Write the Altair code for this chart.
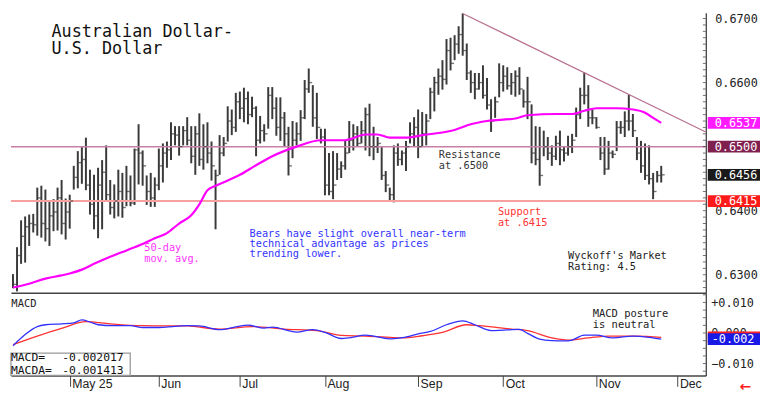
import altair as alt
import pandas as pd
import numpy as np

# ---------------- data ----------------
highs = [0.6301, 0.6343, 0.6385, 0.6391, 0.6394, 0.6395, 0.6436, 0.6439, 0.6433, 0.6415,
         0.6418, 0.6436, 0.6448, 0.6419, 0.6425, 0.6470, 0.6493, 0.6500, 0.6514, 0.6464,
         0.6456, 0.6467, 0.6479, 0.6502, 0.6448, 0.6441, 0.6464, 0.6459, 0.6470, 0.6455,
         0.6497, 0.6535, 0.6494, 0.6455, 0.6459, 0.6452, 0.6497, 0.6505, 0.6508, 0.6538,
         0.6532, 0.6532, 0.6532, 0.6546, 0.6532, 0.6532, 0.6552, 0.6535, 0.6538, 0.6508,
         0.6464, 0.6518, 0.6515, 0.6563, 0.6558, 0.6584, 0.6586, 0.6592, 0.6586, 0.6578,
         0.6563, 0.6548, 0.6535, 0.6593, 0.6593, 0.6577, 0.6577, 0.6554, 0.6531, 0.6540,
         0.6538, 0.6557, 0.6604, 0.6622, 0.6596, 0.6584, 0.6528, 0.6528, 0.6490, 0.6493,
         0.6490, 0.6477, 0.6509, 0.6540, 0.6535, 0.6532, 0.6540, 0.6561, 0.6567, 0.6531,
         0.6515, 0.6500, 0.6462, 0.6436, 0.6502, 0.6505, 0.6494, 0.6509, 0.6538, 0.6546,
         0.6558, 0.6554, 0.6551, 0.6592, 0.6609, 0.6622, 0.6635, 0.6668, 0.6670, 0.6674,
         0.6688, 0.6708, 0.6661, 0.6619, 0.6615, 0.6615, 0.6627, 0.6607, 0.6574, 0.6578,
         0.6630, 0.6627, 0.6624, 0.6615, 0.6619, 0.6624, 0.6589, 0.6609, 0.6566, 0.6532,
         0.6531, 0.6525, 0.6515, 0.6502, 0.6517, 0.6525, 0.6500, 0.6517, 0.6520, 0.6561,
         0.6592, 0.6616, 0.6596, 0.6558, 0.6546, 0.6515, 0.6515, 0.6509, 0.6494, 0.6540,
         0.6540, 0.6555, 0.6581, 0.6551, 0.6515, 0.6509, 0.6505, 0.6502, 0.6459, 0.6462,
         0.6470]
lows = [0.6279, 0.6274, 0.6317, 0.6319, 0.6345, 0.6366, 0.6361, 0.6358, 0.6352, 0.6345,
        0.6368, 0.6369, 0.6363, 0.6355, 0.6372, 0.6433, 0.6435, 0.6442, 0.6432, 0.6394,
        0.6371, 0.6357, 0.6371, 0.6416, 0.6394, 0.6388, 0.6391, 0.6389, 0.6407, 0.6407,
        0.6409, 0.6441, 0.6439, 0.6409, 0.6406, 0.6406, 0.6432, 0.6444, 0.6467, 0.6479,
        0.6502, 0.6486, 0.6502, 0.6502, 0.6474, 0.6456, 0.6470, 0.6464, 0.6474, 0.6447,
        0.6371, 0.6456, 0.6485, 0.6508, 0.6518, 0.6523, 0.6543, 0.6538, 0.6535, 0.6546,
        0.6485, 0.6505, 0.6508, 0.6528, 0.6543, 0.6517, 0.6509, 0.6500, 0.6455, 0.6482,
        0.6502, 0.6509, 0.6543, 0.6584, 0.6531, 0.6512, 0.6505, 0.6424, 0.6424, 0.6418,
        0.6448, 0.6451, 0.6464, 0.6490, 0.6494, 0.6500, 0.6505, 0.6494, 0.6485, 0.6479,
        0.6490, 0.6448, 0.6429, 0.6416, 0.6413, 0.6470, 0.6471, 0.6462, 0.6505, 0.6500,
        0.6482, 0.6500, 0.6502, 0.6543, 0.6555, 0.6581, 0.6589, 0.6597, 0.6619, 0.6635,
        0.6645, 0.6642, 0.6604, 0.6584, 0.6574, 0.6589, 0.6575, 0.6558, 0.6523, 0.6545,
        0.6577, 0.6586, 0.6589, 0.6581, 0.6578, 0.6581, 0.6561, 0.6543, 0.6474, 0.6471,
        0.6439, 0.6485, 0.6479, 0.6470, 0.6479, 0.6471, 0.6477, 0.6486, 0.6490, 0.6515,
        0.6543, 0.6566, 0.6531, 0.6535, 0.6528, 0.6479, 0.6456, 0.6464, 0.6482, 0.6493,
        0.6520, 0.6515, 0.6525, 0.6515, 0.6479, 0.6459, 0.6448, 0.6441, 0.6418, 0.6444,
        0.6444]
closes = [0.6285, 0.6330, 0.6360, 0.6375, 0.6380, 0.6378, 0.6420, 0.6380, 0.6372, 0.6392,
          0.6398, 0.6420, 0.6380, 0.6398, 0.6415, 0.6452, 0.6475, 0.6480, 0.6440, 0.6410,
          0.6392, 0.6440, 0.6460, 0.6425, 0.6405, 0.6415, 0.6430, 0.6405, 0.6430, 0.6412,
          0.6495, 0.6490, 0.6470, 0.6430, 0.6420, 0.6440, 0.6470, 0.6490, 0.6495, 0.6520,
          0.6518, 0.6500, 0.6525, 0.6510, 0.6485, 0.6520, 0.6480, 0.6500, 0.6490, 0.6470,
          0.6455, 0.6490, 0.6505, 0.6540, 0.6530, 0.6570, 0.6560, 0.6575, 0.6550, 0.6560,
          0.6510, 0.6525, 0.6520, 0.6580, 0.6560, 0.6530, 0.6545, 0.6520, 0.6470, 0.6510,
          0.6520, 0.6545, 0.6590, 0.6600, 0.6545, 0.6530, 0.6515, 0.6440, 0.6430, 0.6440,
          0.6465, 0.6470, 0.6490, 0.6510, 0.6520, 0.6505, 0.6525, 0.6550, 0.6500, 0.6500,
          0.6505, 0.6455, 0.6440, 0.6425, 0.6490, 0.6480, 0.6490, 0.6500, 0.6520, 0.6530,
          0.6500, 0.6520, 0.6540, 0.6585, 0.6600, 0.6610, 0.6605, 0.6650, 0.6630, 0.6660,
          0.6675, 0.6650, 0.6615, 0.6600, 0.6590, 0.6600, 0.6580, 0.6565, 0.6540, 0.6570,
          0.6600, 0.6610, 0.6595, 0.6600, 0.6610, 0.6590, 0.6570, 0.6570, 0.6490, 0.6480,
          0.6455, 0.6500, 0.6490, 0.6485, 0.6505, 0.6495, 0.6490, 0.6500, 0.6510, 0.6550,
          0.6580, 0.6580, 0.6545, 0.6545, 0.6530, 0.6490, 0.6465, 0.6490, 0.6488, 0.6530,
          0.6530, 0.6540, 0.6540, 0.6525, 0.6490, 0.6470, 0.6455, 0.6450, 0.6430, 0.6455,
          0.6456]

ma_idx = [0, 4, 8, 12, 14, 17, 20, 24, 28, 32, 35, 38, 41, 44, 46, 48, 50, 53, 56, 60,
          64, 70, 76, 82, 87, 90, 93, 97, 102, 106, 109, 113, 117, 124, 127, 134, 138,
          141, 144, 149, 153, 156, 158, 160]
ma_val = [0.6280, 0.6286, 0.6294, 0.6299, 0.6302, 0.6308, 0.6317, 0.6328, 0.6338, 0.6348,
          0.6357, 0.6365, 0.6380, 0.6393, 0.6410, 0.6432, 0.6439, 0.6447, 0.6456, 0.6471,
          0.6485, 0.6500, 0.6510, 0.6510, 0.6519, 0.6519, 0.6514, 0.6514, 0.6519, 0.6522,
          0.6526, 0.6535, 0.6540, 0.6544, 0.6549, 0.6551, 0.6551, 0.6556, 0.6560, 0.6560,
          0.6558, 0.6553, 0.6545, 0.6537]

macd_idx = [0, 3, 6, 8, 12, 15, 17, 19, 21, 25, 29, 32, 36, 40, 43, 46, 51, 55, 58, 62,
            64, 70, 74, 77, 81, 83, 87, 93, 98, 100, 103, 107, 111, 114, 118, 122, 125,
            127, 130, 133, 136, 138, 141, 144, 148, 153, 157, 160]
macd_val = [-0.0042, -0.0005, 0.0021, 0.0027, 0.0030, 0.0033, 0.0043, 0.0036, 0.0027, 0.0024,
            0.0024, 0.0018, 0.0018, 0.0022, 0.0024, 0.0023, 0.0011, 0.0020, 0.0026, 0.0016,
            0.0019, 0.0003, 0.0011, 0.0002, -0.0018, -0.0016, -0.0007, -0.0019, -0.0010,
            -0.0003, 0.0005, 0.0027, 0.0040, 0.0027, 0.0008, 0.0010, 0.0012, -0.0001,
            -0.0020, -0.0025, -0.0026, -0.0023, -0.0007, -0.0007, -0.0016, -0.0010,
            -0.0014, -0.0020]
sig_idx = [0, 6, 12, 18, 24, 32, 43, 51, 59, 67, 75, 81, 87, 93, 96, 101, 106, 112, 115,
           123, 127, 133, 137, 142, 147, 154, 160]
sig_val = [-0.0038, -0.0010, 0.0015, 0.0037, 0.0030, 0.0024, 0.0023, 0.0013, 0.0021, 0.0013,
           0.0008, -0.0008, -0.0010, -0.0014, -0.0016, -0.0009, 0.0002, 0.0027, 0.0024,
           0.0013, 0.0008, -0.0016, -0.0023, -0.0016, -0.0010, -0.0010, -0.0014]

month_idx = [14, 36, 56, 77, 100, 121, 144, 164]
month_lbl = ["May 25", "Jun", "Jul", "Aug", "Sep", "Oct", "Nov", "Dec"]
price_ticks = [0.63, 0.64, 0.65, 0.66, 0.67]
macd_ticks = [-0.01, 0.0, 0.01]

resistance = 0.6500
support = 0.6415
trend_idx = [111, 171]
trend_val = [0.6708, 0.6523]
last_close = 0.6456
last_ma = 0.6537
macd_last = -0.002017
macda_last = -0.001413

# ---------------- layout ----------------
W, HM, HD = 705, 284, 84
MONO = "DejaVu Sans Mono"
xscale = alt.Scale(domain=[-0.5, 171], nice=False, zero=False)
yscale = alt.Scale(domain=[0.6272, 0.6709], nice=False, zero=False)
mscale = alt.Scale(domain=[-0.0139, 0.0132], nice=False, zero=False)

AX_MAIN = alt.Axis(orient="bottom", labels=False, ticks=False, grid=False, title=None,
                   domainColor="#444", domainWidth=1.5)
AY_MAIN = alt.Axis(orient="right", values=price_ticks, format=".4f", ticks=False,
                   grid=False, title=None, domainColor="#333", domainWidth=1.2,
                   labelFont=MONO, labelFontSize=12, labelColor="#222", labelPadding=9)

x_expr = ("[" + ",".join(f"'{m}'" for m in month_lbl) + "][indexof(["
          + ",".join(str(v) for v in month_idx) + "], datum.value)]")
y_expr = ("datum.value > 0.0001 ? '+' + format(datum.value, '.3f') : "
          "format(datum.value, '.3f')")
AX_MACD = alt.Axis(orient="bottom", values=month_idx, labelExpr=x_expr,
                   tickSize=11, tickColor="#444", tickWidth=1, grid=False,
                   title=None, domainColor="#444", domainWidth=1.5,
                   labelAlign="left", labelBaseline="top", labelPadding=-9,
                   labelOffset=2, labelFont="Liberation Sans", labelFontSize=12.5,
                   labelColor="#222", labelFlush=False, labelOverlap=False,
                   labelBound=False)
AY_MACD = alt.Axis(orient="right", values=macd_ticks, labelExpr=y_expr,
                   ticks=False, grid=False, title=None, domainColor="#333",
                   domainWidth=1.2, labelFont=MONO, labelFontSize=12,
                   labelColor="#222", labelPadding=5)


def X(f="i"):
    return alt.X(f"{f}:Q", scale=xscale, axis=AX_MAIN)


def Y(f):
    return alt.Y(f"{f}:Q", scale=yscale, axis=AY_MAIN)


def XM(f="i"):
    return alt.X(f"{f}:Q", scale=xscale, axis=AX_MACD)


def M(f):
    return alt.Y(f"{f}:Q", scale=mscale, axis=AY_MACD)


bars = pd.DataFrame({"i": range(len(highs)), "h": highs, "l": lows, "c": closes})
ma = pd.DataFrame({"i": ma_idx, "v": ma_val})
trend = pd.DataFrame({"i": trend_idx, "v": trend_val})

# ---- main panel ----
bar_rules = alt.Chart(bars).mark_rule(color="#3a3a3a", strokeWidth=2).encode(
    x=X(), y=Y("l"), y2="h:Q")
res_rule = alt.Chart(pd.DataFrame({"v": [resistance]})).mark_rule(
    color="#c97fa3", strokeWidth=1.5).encode(y=Y("v"))
sup_rule = alt.Chart(pd.DataFrame({"v": [support]})).mark_rule(
    color="#f7a0a0", strokeWidth=2).encode(y=Y("v"))
trend_line = alt.Chart(trend).mark_line(color="#b8708f", strokeWidth=1.2).encode(
    x=X(), y=Y("v"))
close_ticks = alt.Chart(bars).mark_tick(
    orient="horizontal", size=3, thickness=1.4, color="#3a3a3a", xOffset=2).encode(
    x=X(), y=Y("c"))
ma_line = alt.Chart(ma).mark_line(color="#ff00ff", strokeWidth=2.2,
                                  interpolate="monotone").encode(x=X(), y=Y("v"))

minor = pd.DataFrame({"v": np.round(np.arange(0.628, 0.6706, 0.001), 4)})
minor_ticks = alt.Chart(minor).mark_tick(orient="horizontal", size=3, thickness=1,
                                         color="#333").encode(
    x=alt.value(W - 1.5), y=Y("v"))

title_df = pd.DataFrame({"i": [9.5, 9.5], "v": [0.66710, 0.66444],
                         "t": ["Australian Dollar-", "U.S. Dollar"]})
title_txt = alt.Chart(title_df).mark_text(
    align="left", baseline="alphabetic", font=MONO, fontSize=17, color="#111").encode(
    x=X(), y=Y("v"), text="t:N")

ann = pd.DataFrame({
    "i": [105.1, 105.1, 119.7, 119.7, 58.4, 58.4, 58.4, 32.4, 32.4, 137.0, 137.0],
    "v": [0.6482, 0.64655, 0.63926, 0.63760, 0.63597, 0.63437, 0.63277, 0.63368,
          0.63203, 0.63246, 0.63080],
    "t": ["Resistance", "at .6500", "Support", "at .6415",
          "Bears have slight overall near-term", "technical advantage as prices",
          "trending lower.", "50-day", "mov. avg.", "Wyckoff's Market", "Rating: 4.5"],
    "c": ["#333333", "#333333", "#ff3333", "#ff3333", "#3333ff", "#3333ff", "#3333ff",
          "#ff33ff", "#ff33ff", "#222222", "#222222"],
})
ann_txt = alt.Chart(ann).mark_text(
    align="left", baseline="alphabetic", font=MONO, fontSize=10.4).encode(
    x=X(), y=Y("v"), text="t:N", color=alt.Color("c:N", scale=None))

boxes = pd.DataFrame({
    "v": [last_ma, resistance, last_close, support],
    "lbl": [f"{last_ma:.4f}", f"{resistance:.4f}", f"{last_close:.4f}", f"{support:.4f}"],
    "fill": ["#ff1aff", "#80204f", "#1a1a1a", "#ff1a1a"],
})
box_rect = alt.Chart(boxes).transform_calculate(
    t="datum.v + 0.00092", b="datum.v - 0.00092").mark_rect().encode(
    x=alt.value(W + 2), x2=alt.value(W + 55), y=Y("t"), y2="b:Q",
    color=alt.Color("fill:N", scale=None))
box_txt = alt.Chart(boxes).mark_text(
    align="left", baseline="middle", font=MONO, fontSize=12, color="white").encode(
    x=alt.value(W + 9), y=Y("v"), text="lbl:N")

main = alt.layer(bar_rules, res_rule, sup_rule, trend_line, close_ticks, ma_line,
                 minor_ticks, title_txt, ann_txt, box_rect, box_txt).properties(
    width=W, height=HM)

# ---- MACD panel ----
macd_df = pd.DataFrame({"i": macd_idx, "v": macd_val})
sig_df = pd.DataFrame({"i": sig_idx, "v": sig_val})

sig_line = alt.Chart(sig_df).mark_line(color="#ff3030", strokeWidth=1.3,
                                       interpolate="monotone").encode(
    x=XM(), y=M("v"))
macd_line = alt.Chart(macd_df).mark_line(color="#3030ff", strokeWidth=1.3,
                                         interpolate="monotone").encode(
    x=XM(), y=M("v"))

mminor = pd.DataFrame({"v": np.round(np.arange(-0.0125, 0.01251, 0.0025), 4)})
mminor_ticks = alt.Chart(mminor).mark_tick(orient="horizontal", size=3, thickness=1,
                                           color="#333").encode(
    x=alt.value(W - 1.5), y=M("v"))

mann = pd.DataFrame({"i": [-0.4, 143.1, 143.1], "v": [0.0086, 0.0052, 0.0017],
                     "t": ["MACD", "MACD posture", "is neutral"]})
mann_txt = alt.Chart(mann).mark_text(
    align="left", baseline="alphabetic", font=MONO, fontSize=10.6, color="#222").encode(
    x=XM(), y=M("v"), text="t:N")

leg_box = alt.Chart(pd.DataFrame({"t": [-0.0066], "b": [-0.0139]})).mark_rect(
    fill="white", stroke="#999", strokeWidth=1.3).encode(
    x=alt.value(0), x2=alt.value(121), y=M("t"), y2="b:Q")
leg = pd.DataFrame({"v": [-0.0093, -0.01355], "k": ["MACD=", "MACDA="],
                    "n": [f"{macd_last:.6f}", f"{macda_last:.6f}"]})
leg_k = alt.Chart(leg).mark_text(align="left", baseline="alphabetic", font=MONO,
                                 fontSize=11.5, color="#111").encode(
    x=alt.value(0), y=M("v"), text="k:N")
leg_n = alt.Chart(leg).mark_text(align="left", baseline="alphabetic", font=MONO,
                                 fontSize=11.5, color="#111").encode(
    x=alt.value(52), y=M("v"), text="n:N")

mbox = pd.DataFrame({"v": [macda_last, macd_last], "fill": ["#ff2020", "#1a1ae6"],
                     "lbl": ["", f"{macd_last:.3f}"]})
mbox_rect = alt.Chart(mbox).transform_calculate(
    t="datum.v + 0.0019", b="datum.v - 0.0019").mark_rect().encode(
    x=alt.value(W + 2), x2=alt.value(W + 55), y=M("t"), y2="b:Q",
    color=alt.Color("fill:N", scale=None))
mbox_txt = alt.Chart(mbox).mark_text(
    align="left", baseline="middle", font=MONO, fontSize=12, color="white").encode(
    x=alt.value(W + 6), y=M("v"), text="lbl:N")

arrow = alt.Chart(pd.DataFrame({"t": ["\u2190"]})).mark_text(
    align="center", baseline="middle", font="DejaVu Sans", fontSize=14,
    fontWeight="bold", color="#ff1a1a").encode(
    x=alt.value(W + 40), y=alt.value(HD + 12), text="t:N")

macd = alt.layer(sig_line, macd_line, mminor_ticks, mann_txt, leg_box, leg_k, leg_n,
                 mbox_rect, mbox_txt, arrow).properties(width=W, height=HD)

chart = alt.vconcat(main, macd, spacing=0).properties(
    padding=0, background="white").configure_view(stroke=None)

chart.save("out.html", embed_options={"renderer": "svg", "actions": False})
